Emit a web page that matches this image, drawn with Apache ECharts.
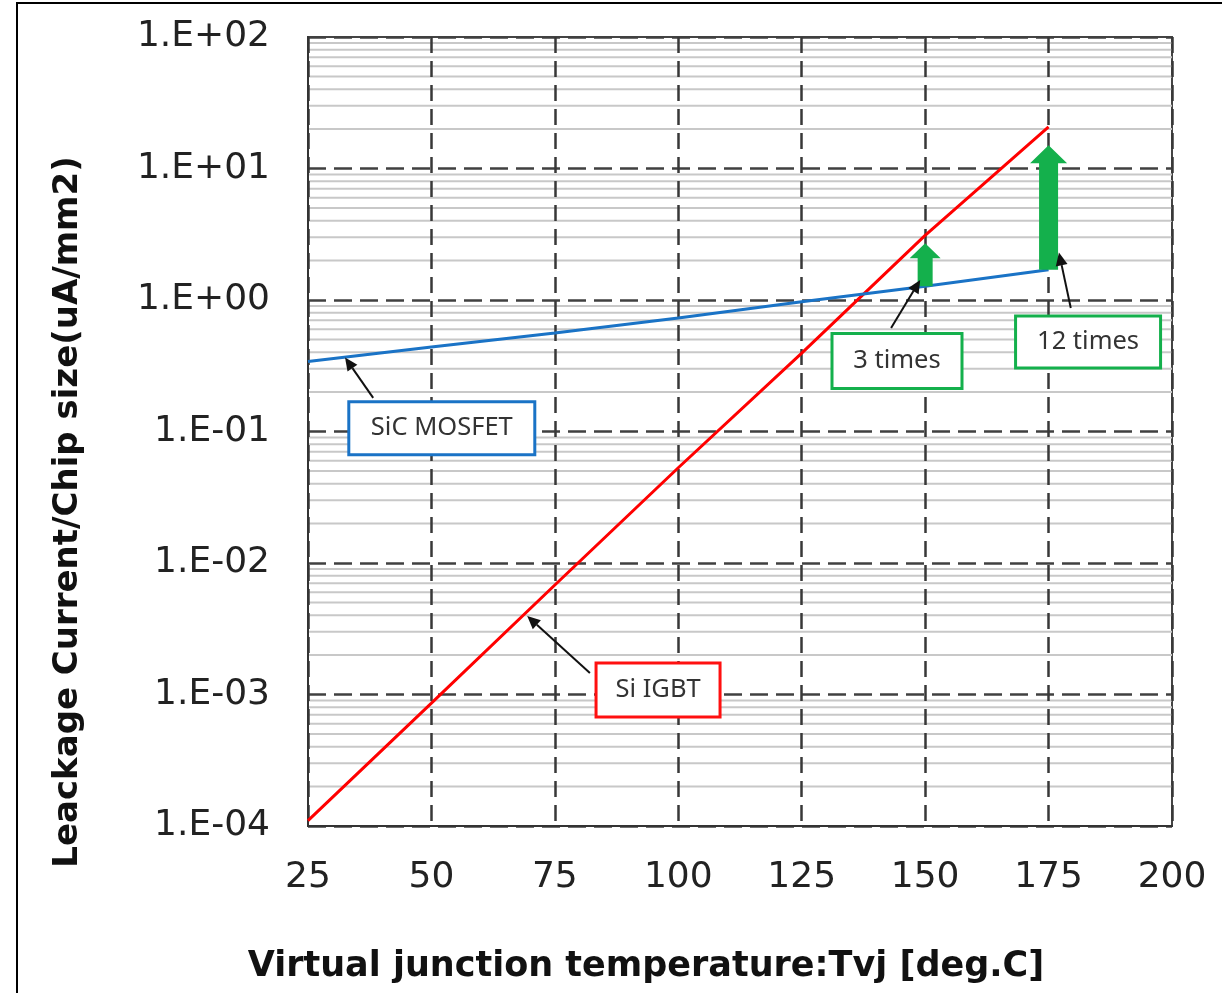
<!DOCTYPE html>
<html>
<head>
<meta charset="utf-8">
<script src="https://cdn.jsdelivr.net/npm/echarts@6/dist/echarts.min.js"></script>
<style>
  html, body { margin: 0; padding: 0; background: #fff; }
  #chart { width: 1222px; height: 993px; }
</style>
</head>
<body>
<div id="chart"></div>
<script>
// 温度 (deg.C)
const temps = [25, 50, 75, 100, 125, 150, 175];
// 漏电流 / 芯片面积 (uA/mm2)
const siIgbt = [1.1e-4, 8.6e-4, 6.8e-3, 5.3e-2, 0.395, 3.1, 20.7];
const sicMosfet = [0.34, 0.44, 0.56, 0.73, 0.97, 1.27, 1.7];

// 绿色箭头: [温度, 起点, 终点]
const ratioArrows = [
  [150, 1.27, 2.7],
  [175, 1.7, 15]
];
const arrowStyles = [
  { shaft: 15, head: 31, headLen: 15 },
  { shaft: 19, head: 37, headLen: 18 }
];

// 标注框: [框中心x, 框中心y, 引线起点x, 起点y, 箭头x, 箭头y]
const calloutLabels = ["SiC MOSFET", "Si IGBT", "3 times", "12 times"];
const callouts = [
  [52.1, 0.106, 38.2, 0.18, 32.5, 0.366],
  [95.9, 1.08e-3, 82.1, 1.46e-3, 69.4, 3.95e-3],
  [144.3, 0.344, 143.1, 0.612, 149.0, 1.42],
  [183.0, 0.48, 179.5, 0.87, 177.1, 2.3]
];
const calloutStyles = [
  { w: 186, h: 53, color: "#1a73c6" },
  { w: 124, h: 54, color: "#ff1010" },
  { w: 130, h: 55, color: "#14b04c" },
  { w: 145, h: 52, color: "#14b04c" }
];

// 次网格线 2..9 x 10^k
const minorMultipliers = [2, 3, 4, 5, 6, 7, 8, 9];
const decades = [-4, -3, -2, -1, 0, 1];
const minorGrid = [];
decades.forEach(k => minorMultipliers.forEach(m => minorGrid.push([25, m * Math.pow(10, k)])));

const fmtExp = v => {
  const e = Math.round(Math.log10(v));
  const s = e < 0 ? "-" : "+";
  return "1.E" + s + String(Math.abs(e)).padStart(2, "0");
};

const chart = echarts.init(document.getElementById("chart"));
chart.setOption({
  animation: false,
  backgroundColor: "#fff",
  grid: {
    left: 308, top: 37, right: 50, bottom: 167,
    show: true, backgroundColor: "transparent",
    borderColor: "#444", borderWidth: 2
  },
  xAxis: {
    type: "value", min: 25, max: 200, interval: 25, z: 2,
    axisLine: { show: true, onZero: false, lineStyle: { color: "#333", width: 2 } },
    axisTick: { show: false },
    axisLabel: { margin: 34, color: "#222", fontSize: 36, fontFamily: "DejaVu Sans" },
    splitLine: { show: true, lineStyle: { color: "#383838", width: 2.5, type: [16, 8] } }
  },
  yAxis: {
    type: "log", logBase: 10, min: 1e-4, max: 100, z: 2,
    axisLine: { show: true, lineStyle: { color: "#333", width: 2 } },
    axisTick: { show: false },
    axisLabel: { margin: 38, color: "#222", fontSize: 36, fontFamily: "DejaVu Sans", formatter: fmtExp },
    splitLine: { show: true, lineStyle: { color: "#404040", width: 2.5, type: [18, 8] } }
  },
  graphic: [
    { type: "rect", z: 100, shape: { x: 17, y: 3, width: 1240, height: 1020 },
      style: { fill: "none", stroke: "#000", lineWidth: 2 } },
    { type: "text", x: 68, y: 512, rotation: Math.PI / 2,
      style: { text: "Leackage Current/Chip size(uA/mm2)", fill: "#111",
        font: 'bold 34px "DejaVu Sans"', align: "center", verticalAlign: "middle" } },
    { type: "text", x: 646, y: 967,
      style: { text: "Virtual junction temperature:Tvj [deg.C]", fill: "#111",
        font: 'bold 35px "DejaVu Sans"', align: "center", verticalAlign: "middle" } }
  ],
  series: [
    {
      // 次网格线
      type: "custom", z: 1, silent: true,
      data: minorGrid,
      renderItem: (params, api) => {
        const cs = params.coordSys;
        const y = api.coord([api.value(0), api.value(1)])[1];
        return {
          type: "line",
          shape: { x1: cs.x, y1: y, x2: cs.x + cs.width, y2: y },
          style: { stroke: "#c8c8c8", lineWidth: 2 }
        };
      }
    },
    {
      name: "Si IGBT", type: "line", showSymbol: false, z: 3,
      data: temps.map((t, i) => [t, siIgbt[i]]),
      lineStyle: { color: "#ff0000", width: 3 }
    },
    {
      name: "SiC MOSFET", type: "line", showSymbol: false, z: 3,
      data: temps.map((t, i) => [t, sicMosfet[i]]),
      lineStyle: { color: "#1a73c6", width: 3 }
    },
    {
      // 绿色倍数箭头
      type: "custom", z: 4, silent: true,
      data: ratioArrows,
      renderItem: (params, api) => {
        const st = arrowStyles[params.dataIndex];
        const base = api.coord([api.value(0), api.value(1)]);
        const tip = api.coord([api.value(0), api.value(2)]);
        const x = base[0];
        const hb = tip[1] + st.headLen;
        return {
          type: "polygon",
          shape: { points: [
            [x - st.shaft / 2, base[1]], [x - st.shaft / 2, hb], [x - st.head / 2, hb],
            [x, tip[1]], [x + st.head / 2, hb], [x + st.shaft / 2, hb], [x + st.shaft / 2, base[1]]
          ] },
          style: { fill: "#14b04c" }
        };
      }
    },
    {
      // 标注
      type: "custom", z: 5, silent: true,
      data: callouts,
      renderItem: (params, api) => {
        const i = params.dataIndex;
        const st = calloutStyles[i];
        const c = api.coord([api.value(0), api.value(1)]);
        const tail = api.coord([api.value(2), api.value(3)]);
        const tip = api.coord([api.value(4), api.value(5)]);
        const ang = Math.atan2(tip[1] - tail[1], tip[0] - tail[0]);
        const hl = 13, hw = 6;
        const bx = tip[0] - hl * Math.cos(ang), by = tip[1] - hl * Math.sin(ang);
        const px = -Math.sin(ang) * hw, py = Math.cos(ang) * hw;
        return {
          type: "group",
          children: [
            { type: "line", shape: { x1: tail[0], y1: tail[1], x2: bx, y2: by },
              style: { stroke: "#111", lineWidth: 2 } },
            { type: "polygon", shape: { points: [tip, [bx + px, by + py], [bx - px, by - py]] },
              style: { fill: "#111" } },
            { type: "rect", shape: { x: c[0] - st.w / 2, y: c[1] - st.h / 2, width: st.w, height: st.h },
              style: { fill: "#fff", stroke: st.color, lineWidth: 3 } },
            { type: "text", x: c[0], y: c[1],
              style: { text: calloutLabels[i], fill: "#333", font: '25.5px "Noto Sans"',
                align: "center", verticalAlign: "middle" } }
          ]
        };
      }
    }
  ]
});
</script>
</body>
</html>
